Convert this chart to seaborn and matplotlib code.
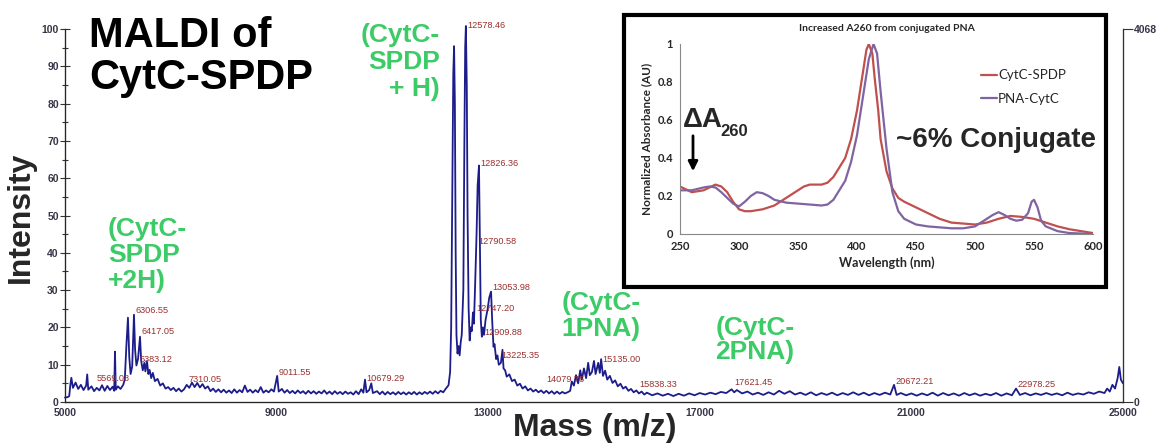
import numpy as np
import pandas as pd
import matplotlib
matplotlib.use("Agg")
import matplotlib.pyplot as plt
import seaborn as sns
from matplotlib.patches import Rectangle

sns.set_style("white")
plt.rcParams['font.family'] = ['Liberation Sans', 'DejaVu Sans']

# MALDI spectrum (mass, % intensity)
low_mass = [5000, 5050, 5080, 5100, 5120, 5150, 5200, 5250, 5300, 5350, 5400, 5420, 5440, 5500,
            5550, 5600, 5650, 5700, 5750, 5800, 5850, 5900, 5930, 5945, 5960, 6000, 6050, 6100]
low_int = [1.2, 1.3, 1.6, 4.5, 6.5, 3.8, 5.2, 3.5, 4.6, 3.2, 4.4, 7.4, 3.3, 4.2,
           2.9, 3.8, 3.1, 4.5, 3.0, 4.3, 3.2, 4.1, 3.0, 13.5, 3.3, 4.2, 3.5, 4.6]

cluster6_mass = [6130, 6160, 6190, 6215, 6240, 6270, 6290, 6304, 6325, 6350, 6380, 6400, 6418,
                 6440, 6470, 6500, 6520, 6550, 6575, 6600, 6630, 6660, 6700, 6750, 6800, 6850,
                 6900, 6950, 7000, 7050, 7100, 7150, 7200, 7250]
cluster6_int = [6.0, 15, 22.6, 12, 7.5, 9.5, 18, 23.4, 14, 9.8, 11.5, 14.5, 17.5,
                11, 8.5, 10.5, 8.2, 11, 7.5, 8.6, 6.4, 7.8, 5.6, 6.2, 4.4, 5.0,
                3.6, 4.0, 3.2, 3.8, 2.9, 3.6, 2.8, 3.4]

mid_mass = [7300, 7350, 7400, 7450, 7500, 7550, 7600, 7650, 7700, 7750, 7800, 7850, 7900, 7950,
            8000, 8050, 8100, 8150, 8200, 8250, 8300, 8350, 8400, 8450, 8500, 8550, 8600, 8650,
            8700, 8750, 8800, 8850, 8900, 8950, 9011, 9040, 9100, 9150, 9200, 9250, 9300, 9350,
            9400, 9450, 9500, 9550, 9600, 9650, 9700, 9750, 9800, 9850, 9900, 9950, 10000, 10050,
            10100, 10150, 10200, 10250, 10300, 10350, 10400, 10450, 10500, 10550, 10600, 10640,
            10671, 10700, 10750, 10790, 10820, 10900, 10950, 11000, 11050, 11100, 11150, 11200,
            11250, 11300, 11350, 11400, 11450, 11500, 11550, 11600, 11650, 11700, 11750, 11800,
            11850, 11900, 11950, 12000, 12050, 12100, 12150, 12200, 12250]
mid_int = [4.6, 3.8, 5.2, 4.0, 5.1, 3.9, 4.8, 3.6, 4.2, 2.9, 3.6, 2.7, 3.4, 2.6,
           3.3, 2.5, 3.1, 2.4, 3.4, 2.5, 3.2, 2.6, 4.4, 2.7, 3.3, 2.5, 3.2, 2.6,
           4.0, 2.5, 3.1, 2.6, 3.4, 2.8, 7.0, 2.8, 3.5, 2.5, 3.2, 2.4, 3.0, 2.3,
           3.1, 2.4, 2.9, 2.2, 3.0, 2.3, 2.9, 2.2, 2.8, 2.3, 3.1, 2.2, 2.8, 2.1,
           2.9, 2.2, 2.7, 2.1, 2.8, 2.2, 2.6, 2.0, 2.9, 2.1, 3.4, 2.5,
           6.0, 2.6, 3.2, 5.0, 2.4, 2.9, 2.1, 2.8, 2.0, 2.7, 2.1, 2.6,
           2.0, 2.7, 2.1, 2.6, 2.0, 2.6, 2.1, 2.7, 2.0, 2.6, 2.1, 2.7,
           2.2, 2.8, 2.2, 2.9, 2.3, 3.0, 2.6, 3.6, 4.5]

main_mass = [12280, 12300, 12320, 12340, 12355, 12370, 12385, 12400, 12420, 12440, 12460, 12480,
             12500, 12530, 12550, 12565, 12578, 12595, 12610, 12630, 12650, 12670, 12690, 12712,
             12730, 12750, 12780, 12800, 12826, 12845, 12860, 12880, 12900, 12920, 12950, 12990,
             13020, 13054, 13075, 13100, 13120, 13150, 13175, 13200, 13240, 13270, 13290, 13320,
             13350, 13400, 13450, 13500, 13550, 13600, 13650, 13700, 13750, 13800, 13850, 13900,
             13950, 14000, 14050, 14100, 14150, 14200, 14250, 14300, 14350, 14400, 14450, 14500]
main_int = [8.0, 20, 55, 88, 95.4, 80, 40, 18, 13, 15, 12.5, 16,
            18, 30, 70, 95, 100.8, 85, 50, 25, 16.5, 20, 19, 24,
            21, 30, 45, 58, 63.4, 40, 22, 17.5, 20, 18, 22, 25,
            28, 29.6, 22, 14.8, 15.5, 11.5, 12.5, 10, 10.5, 14, 9, 8.5,
            6.8, 7.4, 5.6, 6.0, 4.4, 4.9, 3.6, 4.2, 3.1, 3.6, 2.8, 3.3,
            2.6, 3.1, 2.4, 3.0, 2.3, 2.9, 2.2, 2.8, 2.2, 2.7, 2.3, 2.6]

pna1_mass = [14550, 14580, 14620, 14660, 14700, 14740, 14770, 14810, 14850, 14890, 14920, 14960,
             15000, 15030, 15080, 15110, 15135, 15170, 15210, 15250, 15300, 15350, 15400, 15450,
             15500, 15550, 15600, 15650, 15700, 15750, 15800, 15850, 15900, 15950, 16000]
pna1_int = [3.0, 5.5, 4.4, 7.2, 5.0, 8.5, 6.0, 9.0, 6.4, 10.5, 7.2, 8.0,
            11.0, 7.5, 10.5, 7.8, 11.5, 7.0, 8.4, 6.0, 7.0, 5.1, 5.8, 4.2,
            4.9, 3.6, 4.1, 3.0, 3.5, 2.6, 3.1, 2.3, 2.8, 2.0, 2.5]

high_mass = [16100, 16200, 16300, 16400, 16500, 16600, 16700, 16800, 16900, 17000, 17100, 17200,
             17300, 17400, 17500, 17600, 17650, 17700, 17800, 17900, 18000, 18100, 18200, 18300,
             18400, 18500, 18600, 18700, 18800, 18900, 19000, 19100, 19200, 19300, 19400, 19500,
             19600, 19700, 19800, 19900, 20000, 20100, 20200, 20300, 20400, 20500, 20600, 20672,
             20720, 20800, 20900, 21000, 21100, 21200, 21300, 21400, 21500, 21600, 21700, 21800,
             21900, 22000, 22100, 22200, 22300, 22400, 22500, 22600, 22700, 22800, 22900, 22978,
             23050, 23150, 23250, 23350, 23450, 23550, 23650, 23750, 23850, 23950, 24050, 24150,
             24250, 24350, 24450, 24550, 24650, 24700, 24750, 24800, 24850, 24900, 24930, 24960,
             25000]
high_int = [1.8, 2.3, 1.7, 2.2, 1.6, 2.2, 1.7, 2.3, 1.8, 2.4, 2.0, 2.5,
            2.1, 2.7, 2.4, 3.4, 2.6, 3.2, 2.3, 2.8, 2.0, 2.5, 1.9, 2.6,
            2.0, 3.0, 2.2, 2.9, 2.0, 2.5, 1.9, 2.6, 1.8, 2.4, 1.9, 2.5,
            1.8, 2.4, 1.9, 2.6, 1.9, 2.5, 1.8, 2.4, 1.9, 2.5, 2.0, 4.6,
            1.9, 2.4, 1.8, 2.3, 1.7, 2.3, 1.8, 2.5, 1.7, 2.4, 1.8, 2.3,
            1.7, 2.4, 1.8, 2.3, 1.7, 2.2, 1.8, 2.4, 1.7, 2.3, 1.8, 3.6,
            1.9, 2.4, 1.8, 2.3, 1.9, 2.4, 1.9, 2.3, 1.8, 2.5, 1.9, 2.3,
            2.0, 2.6, 2.2, 2.8, 2.4, 3.6, 2.8, 4.6, 3.6, 6.5, 9.4, 6.0,
            5.0]

# peak annotations (m/z shown, intensity where the label sits)
peak_mz = [5569.08, 6306.55, 6417.05, 6383.12, 7310.05, 9011.55, 10679.29, 12578.46, 12826.36,
           12790.58, 13053.98, 12747.20, 12909.88, 13225.35, 14079.76, 15135.00, 15838.33,
           17621.45, 20672.21, 22978.25]
peak_lab_y = [6.2, 24.4, 18.8, 11.5, 5.9, 8.0, 6.4, 101.0, 64.0,
              43.0, 30.8, 25.2, 18.5, 12.6, 5.9, 11.5, 4.6,
              5.1, 5.6, 4.8]

# inset UV-vis spectra
wl_red = [250, 260, 270, 280, 285, 290, 295, 300, 305, 310, 320, 330, 340, 350, 355, 360, 370,
          375, 380, 390, 395, 400, 405, 408, 410, 413, 415, 418, 420, 425, 430, 435, 440, 450,
          460, 470, 480, 490, 500, 510, 520, 530, 540, 550, 560, 570, 580, 590, 600]
abs_red = [0.25, 0.22, 0.23, 0.26, 0.25, 0.22, 0.17, 0.13, 0.12, 0.12, 0.13, 0.15, 0.19, 0.23,
           0.25, 0.26, 0.26, 0.27, 0.30, 0.40, 0.50, 0.65, 0.85, 0.97, 1.0, 0.95, 0.82, 0.65,
           0.50, 0.33, 0.24, 0.19, 0.17, 0.14, 0.11, 0.08, 0.06, 0.055, 0.05, 0.06, 0.08, 0.095,
           0.09, 0.08, 0.06, 0.04, 0.025, 0.015, 0.005]
wl_purple = [250, 260, 270, 275, 280, 285, 290, 295, 300, 305, 310, 315, 320, 325, 330, 340, 350,
             360, 370, 375, 380, 390, 395, 400, 405, 410, 414, 417, 420, 425, 430, 435, 440, 450,
             460, 470, 480, 490, 500, 505, 510, 515, 520, 525, 530, 535, 540, 545, 548, 550, 553,
             556, 560, 570, 580, 600]
abs_purple = [0.23, 0.23, 0.245, 0.25, 0.245, 0.22, 0.19, 0.16, 0.145, 0.17, 0.20, 0.22, 0.215,
              0.20, 0.18, 0.165, 0.16, 0.155, 0.15, 0.155, 0.18, 0.28, 0.38, 0.52, 0.72, 0.92,
              1.0, 0.95, 0.75, 0.45, 0.22, 0.12, 0.08, 0.05, 0.04, 0.035, 0.03, 0.03, 0.04, 0.06,
              0.08, 0.10, 0.115, 0.10, 0.08, 0.07, 0.075, 0.11, 0.17, 0.18, 0.14, 0.07, 0.04,
              0.015, 0.005, 0.0]

W, H = 1159, 445
fig = plt.figure(figsize=(W / 100, H / 100), dpi=100)


def fx(x, y):
    return x / W, 1 - y / H


spec = pd.DataFrame({
    "mass": low_mass + cluster6_mass + mid_mass + main_mass + pna1_mass + high_mass,
    "intensity": low_int + cluster6_int + mid_int + main_int + pna1_int + high_int,
})

ax = fig.add_axes([65 / W, 1 - 402 / H, 1058 / W, 373 / H])
sns.lineplot(data=spec, x="mass", y="intensity", ax=ax, sort=False, estimator=None,
             color="#1c1c8a", lw=1.3, clip_on=False)
ax.set_xlim(5000, 25000)
ax.set_ylim(0, 100)
ax.set_xlabel("")
ax.set_ylabel("")
tick_col = "#363648"
ax.set_xticks([5000, 9000, 13000, 17000, 21000, 25000])
ax.set_xticks([7000, 11000, 15000, 19000, 23000], minor=True)
ax.set_yticks(range(0, 101, 10))
ax.set_yticks(range(5, 100, 10), minor=True)
ax.tick_params(axis="both", which="major", direction="inout", length=7, width=0.8,
               labelsize=7.5, labelcolor=tick_col, color="#333333", pad=1)
ax.tick_params(axis="both", which="minor", direction="inout", length=5, width=0.8, color="#333333")
ax.tick_params(axis="x", which="minor", direction="out", length=4)
for lab in ax.get_xticklabels() + ax.get_yticklabels():
    lab.set_fontweight("bold")
ax.spines["top"].set_visible(False)
for s in ["left", "bottom", "right"]:
    ax.spines[s].set_color("#333333")
    ax.spines[s].set_linewidth(0.9)

ax2 = ax.twinx()
ax2.set_ylim(0, 4068)
ax2.set_yticks([0, 4068])
ax2.tick_params(axis="y", direction="out", length=7, width=0.8, labelsize=7.5,
                labelcolor=tick_col, color="#333333", pad=1)
for lab in ax2.get_yticklabels():
    lab.set_fontweight("bold")
ax2.spines["top"].set_visible(False)
ax2.spines["right"].set_color("#333333")

for m, yv in zip(peak_mz, peak_lab_y):
    ax.annotate(f"{m:.2f}", (m, yv), xytext=(1, 0), textcoords="offset points",
                ha="left", va="center", fontsize=6.6, color="#9b2f2f", annotation_clip=False)

# big labels
fig.text(*fx(89, 57), "MALDI of\nCytC-SPDP", fontsize=30, fontweight="bold", color="black",
         ha="left", va="center", linespacing=1.05)
fig.text(*fx(21, 217), "Intensity", fontsize=23, fontweight="bold", rotation=90,
         ha="center", va="center")
fig.text(*fx(595, 428), "Mass (m/z)", fontsize=23, fontweight="bold", ha="center", va="center")

green = "#3dcb68"
fig.text(*fx(108, 255), "(CytC-\nSPDP\n+2H)", fontsize=19, fontweight="bold", color=green,
         ha="left", va="center", linespacing=1.12, multialignment="left")
fig.text(*fx(440, 62), "(CytC-\nSPDP\n+ H)", fontsize=19, fontweight="bold", color=green,
         ha="right", va="center", linespacing=1.15, multialignment="right")
fig.text(*fx(601, 316), "(CytC-\n1PNA)", fontsize=19, fontweight="bold", color=green,
         ha="center", va="center", linespacing=1.1)
fig.text(*fx(755, 340), "(CytC-\n2PNA)", fontsize=19, fontweight="bold", color=green,
         ha="center", va="center", linespacing=1.05)

# inset frame
fig.patches.append(Rectangle(fx(624, 287), (1106 - 624) / W, (287 - 15) / H,
                             transform=fig.transFigure, facecolor="white", edgecolor="black",
                             lw=3, zorder=5))

ins = fig.add_axes([680 / W, 1 - 234 / H, 413 / W, 190 / H], zorder=6)
ins.patch.set_alpha(0)
sns.lineplot(x=wl_red, y=abs_red, ax=ins, color="#c0504d", lw=1.6, label="CytC-SPDP",
             estimator=None, sort=False)
sns.lineplot(x=wl_purple, y=abs_purple, ax=ins, color="#8064a2", lw=1.6, label="PNA-CytC",
             estimator=None, sort=False)
ins.set_xlim(250, 600)
ins.set_ylim(0, 1)
ins.set_xticks(range(250, 601, 50))
ins.set_yticks([0, 0.2, 0.4, 0.6, 0.8, 1])
ins.set_yticklabels(["0", "0.2", "0.4", "0.6", "0.8", "1"])
ins.tick_params(axis="both", direction="out", length=3, width=0.8, color="#888888",
                labelsize=8, pad=2)
for lab in ins.get_xticklabels() + ins.get_yticklabels():
    lab.set_fontweight("bold")
    lab.set_family("Lato")
ins.spines["top"].set_visible(False)
ins.spines["right"].set_visible(False)
ins.spines["left"].set_color("#888888")
ins.spines["bottom"].set_color("#888888")
ins.set_xlabel("Wavelength (nm)", fontsize=9, family="Lato", fontweight="bold", labelpad=3)
ins.set_ylabel("Normalized Absorbance (AU)", fontsize=8.5, family="Lato", fontweight="bold",
               labelpad=4)
ins.set_title("Increased A260 from conjugated PNA", fontsize=7.5, family="Lato",
              fontweight="bold", pad=9)
leg = ins.legend(loc="upper left", bbox_to_anchor=(0.7, 0.93), frameon=False,
                 handlelength=1.2, handletextpad=0.1, labelspacing=0.9,
                 prop={"family": "Lato", "size": 9.5})

fig.text(*fx(683, 120), "\u0394A", fontsize=20, fontweight="bold", ha="left", va="center",
         zorder=8)
fig.text(*fx(720, 132), "260", fontsize=12, fontweight="bold", ha="left", va="center", zorder=8)
fig.add_artist(plt.annotate("", xy=fx(693, 174), xytext=fx(693, 133), xycoords="figure fraction",
                            arrowprops=dict(arrowstyle="-|>", color="black", lw=2,
                                            mutation_scale=14)))
fig.text(*fx(896, 140), "~6% Conjugate", fontsize=20, fontweight="bold", ha="left", va="center",
         zorder=8)

fig.savefig("out.png", dpi=100)
